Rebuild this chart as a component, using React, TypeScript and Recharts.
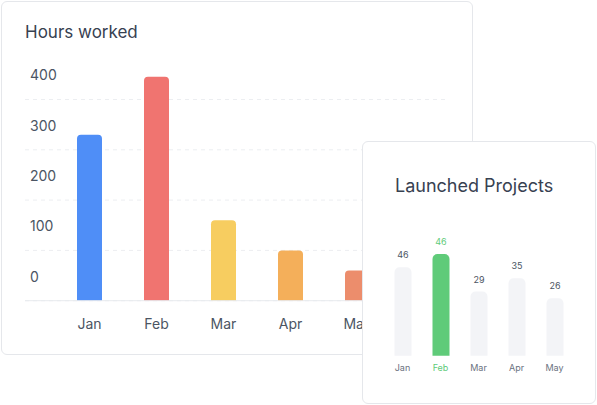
import { Bar, BarChart, CartesianGrid, Cell, LabelList, XAxis, YAxis } from "recharts";

const hoursMonths = ["Jan", "Feb", "Mar", "Apr", "May"];
const hoursValues = [330, 445, 160, 100, 60];
const hoursColors = ["#4f8ef7", "#f07470", "#f7cd60", "#f4af5a", "#ec8d6c"];
const hoursTicks = [0, 100, 200, 300, 400];

const projectMonths = ["Jan", "Feb", "Mar", "Apr", "May"];
const projectValues = [40, 46, 29, 35, 26];
const projectLabels = ["46", "46", "29", "35", "26"];
const highlightIndex = 1;

const hoursData = hoursMonths.map((month, i) => ({ month, hours: hoursValues[i] }));
const projectData = projectMonths.map((month, i) => ({ month, projects: projectValues[i] }));

const font = "Inter, 'Noto Sans', sans-serif";
const green = "#5fcb79";

function HoursTick(props: any) {
  const { x, y, payload } = props;
  return (
    <text x={x} y={y - 24} dy="0.35em" textAnchor="start" fontSize={14} fill="#4b5563" fontFamily={font}>
      {payload.value}
    </text>
  );
}

function ProjectTick(props: any) {
  const { x, y, payload, index } = props;
  return (
    <text x={x} y={y} dy="0.71em" textAnchor="middle" fontSize={9} fill={index === highlightIndex ? green : "#6b7280"} fontFamily={font}>
      {payload.value}
    </text>
  );
}

function ProjectLabel(props: any) {
  const { x, y, width, index } = props;
  return (
    <text x={x + width / 2} y={y - 9} textAnchor="middle" fontSize={9} fill={index === highlightIndex ? green : "#4b5563"} fontFamily={font}>
      {projectLabels[index]}
    </text>
  );
}

export default function App() {
  return (
    <div style={{ position: "absolute", left: 0, top: 0, width: 597, height: 405, background: "#fff", fontFamily: font }}>
      {/* hours card */}
      <div
        style={{
          position: "absolute",
          left: 1,
          top: 1,
          width: 472,
          height: 354,
          boxSizing: "border-box",
          border: "1px solid #e5e7eb",
          borderRadius: 6,
          background: "#fff",
        }}
      />
      <div style={{ position: "absolute", left: 25, top: 21, fontSize: 17, fontWeight: 400, color: "#374151", lineHeight: "22px" }}>
        Hours worked
      </div>
      <div style={{ position: "absolute", left: 0, top: 0 }}>
        <BarChart width={472} height={354} data={hoursData} margin={{ top: 49.2, right: 24, left: 25, bottom: 23.3 }}>
          <CartesianGrid vertical={false} stroke="#eceef1" strokeDasharray="4 4" syncWithTicks />
          <XAxis
            dataKey="month"
            axisLine={{ stroke: "#e8eaee" }}
            tickLine={false}
            padding={{ left: 31, right: 57 }}
            tickMargin={12}
            tick={{ fontSize: 14, fill: "#4b5563", fontFamily: font }}
          />
          <YAxis
            mirror
            domain={[0, 500]}
            ticks={hoursTicks}
            axisLine={false}
            tickLine={false}
            tickSize={0}
            tickMargin={5}
            tick={<HoursTick />}
          />
          <Bar dataKey="hours" barSize={25} radius={[4, 4, 0, 0]} isAnimationActive={false}>
            {hoursData.map((_, i) => (
              <Cell key={i} fill={hoursColors[i]} />
            ))}
          </Bar>
        </BarChart>
      </div>

      {/* projects card */}
      <div
        style={{
          position: "absolute",
          left: 362,
          top: 141,
          width: 234,
          height: 263,
          boxSizing: "border-box",
          border: "1px solid #e5e7eb",
          borderRadius: 6,
          background: "#fff",
        }}
      />
      <div style={{ position: "absolute", left: 395, top: 174, fontSize: 18, fontWeight: 400, color: "#374151", lineHeight: "24px" }}>
        Launched Projects
      </div>
      <div style={{ position: "absolute", left: 362, top: 140 }}>
        <BarChart width={235} height={264} data={projectData} margin={{ top: 105.2, right: 23.5, left: 21.5, bottom: 18.3 }}>
          <XAxis dataKey="month" axisLine={false} tickLine={false} tickMargin={3} tick={<ProjectTick />} />
          <YAxis hide domain={[0, 50]} />
          <Bar dataKey="projects" barSize={17} radius={[5, 5, 0, 0]} isAnimationActive={false}>
            {projectData.map((_, i) => (
              <Cell key={i} fill={i === highlightIndex ? green : "#f3f4f7"} />
            ))}
            <LabelList dataKey="projects" content={<ProjectLabel />} />
          </Bar>
        </BarChart>
      </div>
    </div>
  );
}
